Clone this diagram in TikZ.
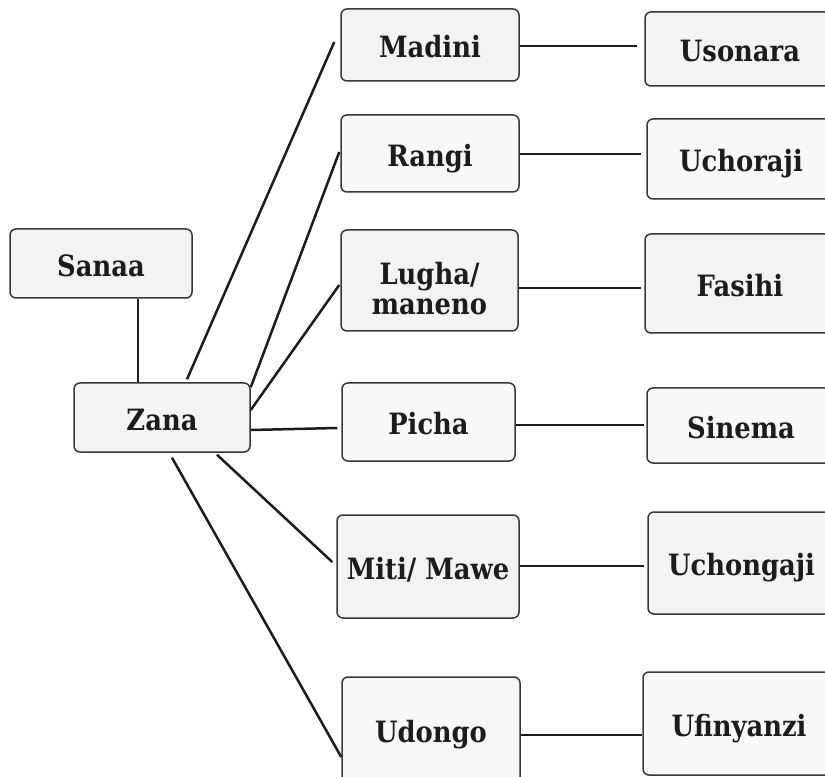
\documentclass[tikz,border=0pt]{standalone}
\usepackage{fontspec}
\setmainfont{DejaVu Serif}[FakeStretch=0.88]
\usetikzlibrary{calc}
\definecolor{boxgray}{RGB}{242,243,243}
\definecolor{boxpale}{RGB}{248,248,248}
\definecolor{rim}{RGB}{55,55,55}
\definecolor{ink}{RGB}{28,28,30}
\newlength\pxu
\setlength\pxu{0.75pt}
\tikzset{
  box/.style={draw=rim,fill=boxgray,rounded corners=6\pxu,line width=1.5\pxu,
    inner sep=0pt,text=ink,text height=19pt,text depth=0pt,
    font=\fontsize{22}{22}\selectfont\bfseries},
  pale/.style={fill=boxpale},
  sz/.style 2 args={minimum width=#1\pxu,minimum height=#2\pxu},
  link/.style={draw=ink,line width=2.5\pxu},
}
\begin{document}
\begin{tikzpicture}[x=0.75pt,y=-0.75pt]
  \useasboundingbox (0,0) rectangle (825,777);
  \clip (0,0) rectangle (825,777);
  % left part
  \node[box,sz={182}{69}] (sanaa) at (101,263.5) {Sanaa};
  \node[box,sz={176}{69}] (zana) at (162,417.5) {Zana};
  % middle column
  \node[box,sz={178}{72}] (madini) at (430,45) {Madini};
  \node[box,pale,sz={178}{77}] (rangi) at (430,153.5) {Rangi};
  \node[box,sz={177}{101},text height=45.2pt,text depth=16.5pt] (lugha) at (429.5,280.5)
    {\begin{tabular}{@{}c@{}}Lugha/\\maneno\end{tabular}};
  \node[box,pale,sz={173}{78}] (picha) at (428.5,422) {Picha};
  \node[box,sz={182}{103}] (miti) at (428,566.5) {Miti/ Mawe};
  \node[box,pale,sz={178}{106}] (udongo) at (431,730) {Udongo};
  % right column, cut by the edge
  \node[box,sz={190}{74}] (usonara) at (740,49) {Usonara};
  \node[box,pale,sz={188}{80}] (uchoraji) at (741,159) {Uchoraji};
  \node[box,sz={190}{99}] (fasihi) at (740,283.5) {Fasihi};
  \node[box,pale,sz={188}{75}] (sinema) at (741,425.5) {Sinema};
  \node[box,sz={187}{102}] (uchongaji) at (741.5,563) {Uchongaji};
  \node[box,pale,sz={192}{103}] (ufinyanzi) at (739,723.5) {Ufinyanzi};

  \draw[link] ([xshift=37\pxu]sanaa.south) -- ([xshift=37\pxu]sanaa.south |- zana.north);
  % fan out of Zana
  \draw[link] ([xshift=25\pxu,yshift=3\pxu]zana.north) -- ([xshift=-6\pxu,yshift=3\pxu]madini.west);
  \draw[link] ([yshift=-5\pxu]zana.north east) -- ([xshift=-1\pxu,yshift=1.5\pxu]rangi.west);
  \draw[link] ([yshift=7.5\pxu]zana.east) -- ([xshift=-1\pxu,yshift=-4.5\pxu]lugha.west);
  \draw[link] ([yshift=-12.5\pxu]zana.east) -- ([xshift=-4\pxu,yshift=-6\pxu]picha.west);
  \draw[link] ([xshift=55\pxu,yshift=-2\pxu]zana.south) -- ([xshift=-4\pxu,yshift=4.5\pxu]miti.west);
  \draw[link] ([xshift=10\pxu,yshift=-5\pxu]zana.south) -- ([yshift=-27\pxu]udongo.west);
  % across to the right column
  \foreach \a/\b/\dy/\gap in {madini/usonara/-1/7,rangi/uchoraji/-0.5/5,lugha/fasihi/-7.5/3,
      picha/sinema/-3/2,miti/uchongaji/0.5/3,udongo/ufinyanzi/-5/0}
    \draw[link,shorten >=\gap\pxu] ([yshift=\dy\pxu]\a.east) -- ([yshift=\dy\pxu]\a.east -| \b.west);
\end{tikzpicture}
\end{document}
